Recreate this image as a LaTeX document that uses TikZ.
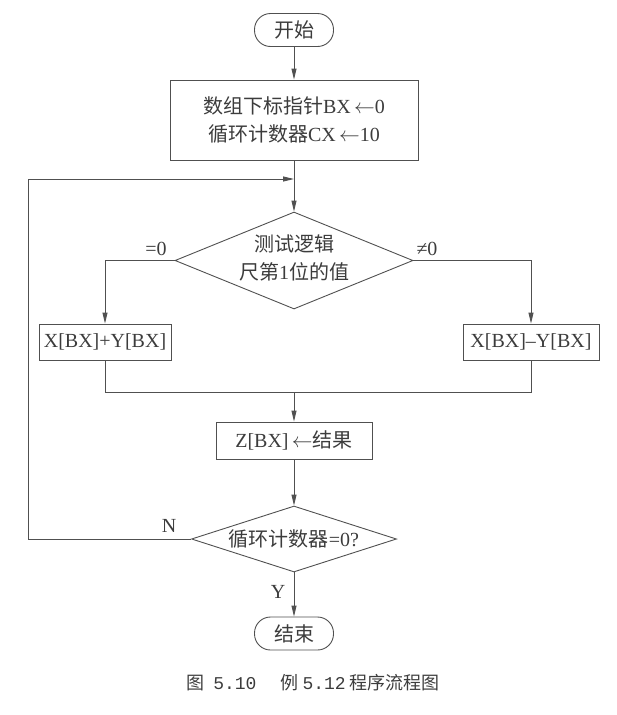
\documentclass[tikz,border=0pt]{standalone}
\usepackage{fontspec}
\setmainfont{Liberation Serif}
\newfontfamily\cjk{Noto Sans CJK SC}
\newfontfamily\capmono{Liberation Mono}
\usetikzlibrary{shapes.geometric,arrows.meta}
\definecolor{ln}{RGB}{80,80,80}
\definecolor{tx}{RGB}{60,60,60}
\newcommand{\larr}{\,$\leftarrow$}
\begin{document}
\begin{tikzpicture}[x=1pt,y=-1pt,
  every node/.style={text=tx,font=\fontsize{20}{28}\selectfont},
  line/.style={draw=ln,line width=0.9pt},
  arr/.style={line,-{Triangle[length=11pt,width=5pt]}},
  term/.style={line,rectangle,rounded corners=16pt,minimum width=79pt,minimum height=33pt,inner sep=0pt},
  proc/.style={line,rectangle,inner sep=0pt,align=center},
  dec/.style={line,diamond,inner sep=0pt,align=center},
  lab/.style={inner sep=0pt}]
\useasboundingbox (0,0) rectangle (616,715);
\node[term] (start) at (294,30) {\cjk 开始};
\node[proc,minimum width=248pt,minimum height=80pt] (init) at (294,120)
  {{\cjk 数组下标指针}BX\larr0\\{\cjk 循环计数器}CX\larr10};
\coordinate (join) at (294,179);
\node[dec,minimum width=238pt,minimum height=97pt] (test) at (294,260.5) {};
\node[lab,align=center] (testtxt) at (294,258) {{\cjk 测试逻辑}\\{\cjk 尺第}1{\cjk 位的值}};
\node[proc,minimum width=132pt,minimum height=36pt] (add) at (105,342) {X[BX]+Y[BX]};
\node[proc,minimum width=136pt,minimum height=36pt] (sub) at (531,342) {X[BX]–Y[BX]};
\coordinate (ml) at (105,392);
\coordinate (mm) at (294,392);
\coordinate (mr) at (531,392);
\node[proc,minimum width=156pt,minimum height=37pt] (res) at (294,440.5) {Z[BX]\larr{\cjk 结果}};
\node[dec,minimum width=205pt,minimum height=66pt] (chk) at (294,539) {};
\node[lab] (chktxt) at (294,539) {{\cjk 循环计数器}=0?};
\node[term] (stop) at (294,633.5) {\cjk 结束};
\coordinate (lb) at (28,539);
\coordinate (lt) at (28,179);
\node[lab] (eq0) at (156,249) {=0};
\node[lab] (ne0) at (427,249) {≠0};
\node[lab] (nlab) at (169,526) {N};
\node[lab] (ylab) at (278,592) {Y};
\node[lab,font=\fontsize{18}{20}\selectfont] (cap) at (313,683)
  {{\cjk 图}\hspace{9pt}{\capmono 5.10}\hspace{24pt}{\cjk 例}\hspace{4pt}{\capmono 5.12}\hspace{4pt}{\cjk 程序流程图}};
\draw[arr] (start) -- (init);
\draw[arr] (init) -- (test);
\draw[arr] (test.west) -| (add.north);
\draw[arr] (test.east) -| (sub.north);
\draw[line] (add.south) -- (ml) -- (mr) -- (sub.south);
\draw[arr] (mm) -- (res);
\draw[arr] (res) -- (chk);
\draw[arr] (chk) -- (stop);
\draw[arr] (chk.west) -- (lb) -- (lt) -- (join);
\end{tikzpicture}
\end{document}
